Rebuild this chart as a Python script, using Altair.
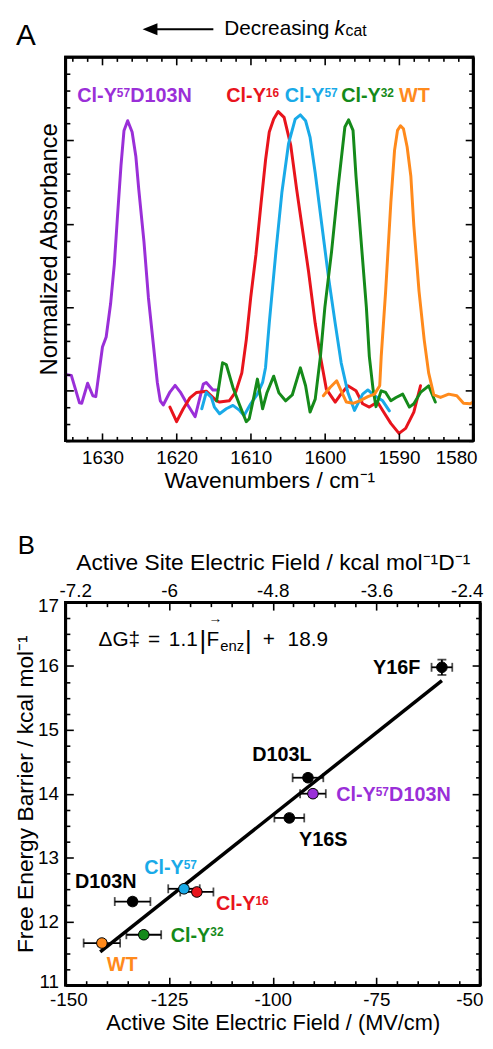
import altair as alt
import pandas as pd

FONT = "Liberation Sans"
PURPLE = "#9a2fd8"
RED = "#e8141c"
BLUE = "#19aae8"
GREEN = "#158a1a"
ORANGE = "#ff8a1c"

# ---------------- Panel A : IR spectra (wavenumber / cm-1, normalized absorbance) ----------------
purple_x = [1635.0, 1634.2, 1633.1, 1632.8, 1632.0, 1631.3, 1630.9, 1630.0, 1629.5, 1628.9, 1628.4,
            1628.0, 1627.5, 1627.1, 1626.6, 1626.0, 1625.5, 1625.1, 1624.4, 1623.8, 1623.1, 1622.6,
            1622.2, 1621.8, 1620.9, 1620.2, 1619.5, 1618.6, 1617.5, 1616.4, 1616.0, 1615.1, 1614.4]
purple_y = [0.039, 0.037, -0.029, -0.030, 0.018, -0.012, -0.014, 0.105, 0.129, 0.209, 0.303,
            0.411, 0.540, 0.623, 0.647, 0.620, 0.562, 0.482, 0.357, 0.223, 0.105, 0.020,
            -0.024, -0.034, -0.003, 0.013, -0.003, -0.031, -0.062, 0.016, 0.020, 0.002, 0.002]

red_x = [1620.9, 1620.0, 1619.1, 1618.2, 1617.3, 1616.0, 1614.6, 1614.2, 1612.9, 1612.0, 1611.2,
         1610.6, 1610.0, 1609.3, 1608.6, 1608.0, 1607.5, 1606.9, 1606.3, 1605.5, 1604.6, 1603.8,
         1603.1, 1602.2, 1601.3, 1600.6, 1599.8, 1598.6, 1598.0, 1596.9, 1595.8, 1594.9, 1594.0,
         1592.9, 1592.2, 1591.1, 1590.0, 1589.1, 1588.0, 1587.1]
red_y = [-0.039, -0.074, -0.043, -0.017, -0.004, -0.001, -0.024, -0.027, -0.024, -0.002, 0.043,
         0.122, 0.224, 0.326, 0.451, 0.553, 0.620, 0.651, 0.669, 0.655, 0.588, 0.482,
         0.396, 0.286, 0.161, 0.082, 0.004, -0.027, -0.012, 0.012, 0.000, -0.031, -0.039,
         -0.027, -0.047, -0.078, -0.102, -0.090, -0.051, 0.012]

blue_x = [1616.6, 1616.0, 1615.3, 1614.9, 1614.2, 1613.3, 1612.4, 1611.5, 1610.9, 1610.0, 1609.1,
          1608.4, 1608.0, 1607.5, 1606.6, 1605.8, 1604.9, 1604.0, 1603.3, 1602.6, 1602.0, 1601.3,
          1600.4, 1599.5, 1598.6, 1597.8, 1596.9, 1596.0, 1594.9, 1594.2, 1593.3, 1592.2, 1591.3]
blue_y = [-0.043, -0.004, -0.016, -0.039, -0.055, -0.043, -0.035, -0.047, -0.059, -0.031, -0.008,
          0.020, 0.056, 0.162, 0.334, 0.475, 0.592, 0.651, 0.661, 0.647, 0.608, 0.522,
          0.396, 0.271, 0.161, 0.067, -0.004, -0.047, -0.008, 0.002, -0.012, -0.024, -0.048]

green_x = [1614.6, 1613.8, 1613.3, 1612.4, 1611.5, 1610.6, 1610.2, 1609.5, 1609.1, 1608.4, 1607.8,
           1606.9, 1606.2, 1605.3, 1604.4, 1603.3, 1602.6, 1602.0, 1601.3, 1600.6, 1600.0, 1599.1,
           1598.2, 1597.3, 1596.8, 1596.2, 1595.8, 1595.1, 1594.4, 1594.0, 1593.5, 1593.1, 1592.4,
           1591.8, 1591.1, 1590.4, 1589.5, 1588.6, 1588.0, 1587.1, 1586.0, 1585.1]
green_y = [-0.024, 0.067, 0.063, 0.008, -0.034, -0.074, -0.067, -0.008, 0.028, -0.043, -0.004,
           0.035, -0.005, -0.024, -0.010, 0.055, 0.012, -0.051, -0.020, 0.082, 0.200, 0.333,
           0.490, 0.632, 0.649, 0.624, 0.514, 0.357, 0.200, 0.082, 0.004, -0.038, 0.000,
           -0.004, -0.024, -0.016, -0.008, -0.039, -0.031, -0.004, 0.012, -0.027]

orange_x = [1600.2, 1599.3, 1598.4, 1597.8, 1597.1, 1596.2, 1595.3, 1594.2, 1593.3, 1592.6, 1592.4,
            1591.8, 1591.1, 1590.6, 1590.2, 1589.8, 1589.4, 1588.9, 1588.4, 1588.0, 1587.3, 1586.6,
            1586.0, 1585.3, 1584.4, 1583.3, 1582.2, 1581.3, 1580.4, 1580.0]
orange_y = [-0.012, 0.008, 0.024, 0.000, -0.027, -0.030, -0.024, -0.014, -0.008, 0.012, 0.082,
            0.239, 0.451, 0.576, 0.624, 0.635, 0.628, 0.584, 0.514, 0.396, 0.239, 0.122,
            0.043, -0.010, -0.016, -0.008, -0.012, -0.030, -0.031, -0.027]

series_x = [purple_x, red_x, blue_x, green_x, orange_x]
series_y = [purple_y, red_y, blue_y, green_y, orange_y]
series_col = [PURPLE, RED, BLUE, GREEN, ORANGE]

# peak labels of panel A: main text, superscript, rest; anchor (wavenumber, absorbance at baseline)
labA_main = ["Cl-Y", "Cl-Y", "Cl-Y", "Cl-Y", "WT"]
labA_sup = ["57", "16", "57", "32", ""]
labA_rest = ["D103N", "", "", "", ""]
labA_x = [1633.4, 1613.3, 1605.4, 1597.8, 1590.0]
labA_y = [0.691, 0.691, 0.691, 0.691, 0.691]

xtickA_labels = [1630, 1620, 1610, 1600, 1590, 1580]
xtickA = list(range(1580, 1636, 2))
ytickA = [round(-0.12 + 0.04 * i, 2) for i in range(24)]

# ---------------- Panel B : free energy barrier vs electric field ----------------
b_names = ["Y16F", "D103L", "Cl-Y57D103N", "Y16S", "Cl-Y57", "Cl-Y16", "D103N", "Cl-Y32", "WT"]
b_field = [-59.2, -91.5, -90.3, -96.0, -121.4, -118.3, -133.8, -131.1, -141.2]
b_dG = [15.98, 14.25, 14.00, 13.62, 12.51, 12.46, 12.31, 11.79, 11.66]
b_xerr = [2.5, 3.7, 3.1, 3.6, 3.8, 4.0, 4.3, 4.2, 4.4]
b_yerr = [0.12, 0.05, 0.05, 0.05, 0.05, 0.05, 0.05, 0.05, 0.05]
b_col = ["black", "black", PURPLE, "black", BLUE, RED, "black", GREEN, ORANGE]

fit_x = [-141.6, -59.2]
fit_y = [11.52, 15.77]

labB_main = ["Y16F", "D103L", "Cl-Y", "Y16S", "Cl-Y", "Cl-Y", "D103N", "Cl-Y", "WT"]
labB_sup = ["", "", "57", "", "57", "16", "", "32", ""]
labB_rest = ["", "", "D103N", "", "", "", "", "", ""]
labB_align = ["right", "center", "left", "center", "left", "left", "left", "left", "left"]
labB_x = [-64.4, -97.8, -84.7, -87.8, -131.0, -113.7, -147.7, -124.6, -140.0]
labB_y = [15.874, 14.509, 13.878, 13.177, 12.740, 12.177, 12.525, 11.678, 11.228]
labB_col = ["black", "black", PURPLE, "black", BLUE, RED, "black", GREEN, ORANGE]

# equation pieces: text, x offset from the anchor (px), y offset (px), font size
eq_text = ["ΔG‡", "=", "1.1", "|", "F", "→", "enz", "|", "+", "18.9"]
eq_dx = [0, 50, 71, 102, 109, 111, 123, 148, 166, 191]
eq_dy = [0, 0, 0, 3, 0, -23, 5, 3, 0, 0]
eq_size = [21, 21, 21, 26, 21, 14, 15, 26, 21, 21]

xtickB_labels = [-150, -125, -100, -75, -50]
xtickB = list(range(-150, -49, 5))
ytickB_labels = [11, 12, 13, 14, 15, 16, 17]
ytickB = [11 + 0.25 * i for i in range(25)]

# ---------------- helpers ----------------
WA, HA = 412, 388
WB, HB = 419, 387
LABEL_SIZE = 20
SUP_SIZE = 12
CLY_W = 40.0     # width of bold "Cl-Y" at 20px
SUP_W = 13.5     # width of bold 2-digit superscript at 12px


def tick_axis(orient, offset, values, test):
    return alt.Axis(orient=orient, offset=offset, values=values, labels=False, title=None,
                    domain=True, domainColor="black", domainWidth=2.5,
                    grid=False, ticks=True, tickColor="black", tickWidth=1.6,
                    tickSize={"condition": {"test": test, "value": 8}, "value": 4.5},
                    minExtent=0, zindex=2)


def edge_labels(first, last, first_off, last_off):
    return dict(
        labelAlign={"condition": {"test": f"datum.value === {last}", "value": "right"}, "value": "center"},
        labelOffset={"condition": [{"test": f"datum.value === {first}", "value": first_off},
                                   {"test": f"datum.value === {last}", "value": last_off}], "value": 0},
    )


def frame(w, h):
    return alt.Chart(pd.DataFrame({"a": [0]})).mark_rect(
        filled=False, color="black", strokeWidth=2.5, opacity=1
    ).encode(x=alt.value(0), x2=alt.value(w), y=alt.value(0), y2=alt.value(h))


def text_layer(x, y, text, color, xs, ys, dx=0, dy=0, size=LABEL_SIZE, weight="bold", align="left"):
    return alt.Chart(pd.DataFrame({"x": [x], "y": [y]})).mark_text(
        text=text, color=color, font=FONT, fontSize=size, fontWeight=weight,
        align=align, baseline="alphabetic", dx=dx, dy=dy
    ).encode(x=alt.X("x:Q", scale=xs, axis=None), y=alt.Y("y:Q", scale=ys, axis=None))


def value_text(px, py, text, size, style="normal", weight="normal", align="left"):
    return alt.Chart(pd.DataFrame({"a": [0]})).mark_text(
        text=text, color="black", font=FONT, fontSize=size, fontStyle=style, fontWeight=weight,
        align=align, baseline="alphabetic"
    ).encode(x=alt.value(px), y=alt.value(py))


# ---------------- Panel A chart ----------------
xA = alt.Scale(domain=[1580, 1635], reverse=True, nice=False, zero=False)
yA = alt.Scale(domain=[-0.12, 0.8], nice=False, zero=False)
specA = pd.DataFrame({"wn": sum(series_x, []), "ab": sum(series_y, [])})
baseA = alt.Chart(specA).mark_point(opacity=0, size=1)
testYA = "abs(datum.value*5 - round(datum.value*5)) < 0.001"

axA1 = baseA.encode(
    x=alt.X("wn:Q", scale=xA, axis=alt.Axis(orient="bottom", values=xtickA_labels, format="d",
                                            ticks=False, domain=False, labelFontSize=19, labelPadding=8,
                                            title="Wavenumbers / cm⁻¹", titleFontSize=23, titlePadding=2,
                                            **edge_labels(1630, 1580, 0, 4))),
    y=alt.Y("ab:Q", scale=yA, axis=alt.Axis(orient="left", labels=False, ticks=False, domain=False,
                                            title="Normalized Absorbance", titleFontSize=24,
                                            titlePadding=4, minExtent=0)))
axA2 = baseA.encode(
    x=alt.X("wn:Q", scale=xA, axis=tick_axis("top", -HA, xtickA, "datum.value % 10 === 0")),
    y=alt.Y("ab:Q", scale=yA, axis=tick_axis("right", -WA, ytickA, testYA)))
axA3 = baseA.encode(
    x=alt.X("wn:Q", scale=xA, axis=tick_axis("bottom", -HA, xtickA, "datum.value % 10 === 0")),
    y=alt.Y("ab:Q", scale=yA, axis=tick_axis("left", -WA, ytickA, testYA)))

layersA = [axA1, axA2, axA3]
for xs_, ys_, c in zip(series_x, series_y, series_col):
    layersA.append(
        alt.Chart(pd.DataFrame({"wn": xs_, "ab": ys_})).mark_line(
            color=c, strokeWidth=3, strokeJoin="round", strokeCap="round"
        ).encode(x=alt.X("wn:Q", scale=xA, axis=None), y=alt.Y("ab:Q", scale=yA, axis=None))
    )
layersA.append(frame(WA, HA))
for m, s, r, x, y, c in zip(labA_main, labA_sup, labA_rest, labA_x, labA_y, series_col):
    layersA.append(text_layer(x, y, m, c, xA, yA))
    if s:
        layersA.append(text_layer(x, y, s, c, xA, yA, dx=CLY_W, dy=-5.5, size=SUP_SIZE))
    if r:
        layersA.append(text_layer(x, y, r, c, xA, yA, dx=CLY_W + SUP_W))

# panel letter and the "Decreasing k_cat" arrow
layersA.append(value_text(-40, -12, "A", 30, align="center"))
layersA.append(alt.Chart(pd.DataFrame({"a": [0]})).mark_rule(color="black", strokeWidth=2).encode(
    x=alt.value(86), x2=alt.value(149.5), y=alt.value(-28)))
layersA.append(alt.Chart(pd.DataFrame({"a": [0]})).mark_point(
    shape="M-1,0L1,-0.8L1,0.8Z", filled=True, size=225, color="black", opacity=1).encode(
    x=alt.value(85.5), y=alt.value(-28)))
layersA.append(value_text(160.5, -22, "Decreasing", 21))
layersA.append(value_text(272, -22, "k", 21, style="italic"))
layersA.append(value_text(283, -21, "cat", 16))

top = alt.layer(*layersA).properties(width=WA, height=HA).resolve_axis(x="independent", y="independent")

# ---------------- Panel B chart ----------------
xB = alt.Scale(domain=[-150, -50], nice=False, zero=False)
yB = alt.Scale(domain=[11, 17], nice=False, zero=False)
dfB = pd.DataFrame({"name": b_names, "f": b_field, "g": b_dG, "col": b_col})
dfB["xlo"] = [f - e for f, e in zip(b_field, b_xerr)]
dfB["xhi"] = [f + e for f, e in zip(b_field, b_xerr)]
dfB["ylo"] = [g - e for g, e in zip(b_dG, b_yerr)]
dfB["yhi"] = [g + e for g, e in zip(b_dG, b_yerr)]
baseB = alt.Chart(dfB).mark_point(opacity=0, size=1)

axB1 = baseB.encode(
    x=alt.X("f:Q", scale=xB, axis=alt.Axis(orient="bottom", values=xtickB_labels, labelExpr="'' + datum.value",
                                           ticks=False, domain=False, labelFontSize=19, labelPadding=6,
                                           title="Active Site Electric Field / (MV/cm)", titleFontSize=22,
                                           titlePadding=3, **edge_labels(-150, -50, 3, 3))),
    y=alt.Y("g:Q", scale=yB, axis=alt.Axis(orient="left", values=ytickB_labels, labelExpr="'' + datum.value",
                                           ticks=False, domain=False, labelFontSize=19, labelPadding=7,
                                           labelOffset={"condition": [
                                               {"test": "datum.value === 11", "value": -4},
                                               {"test": "datum.value === 17", "value": 3}], "value": 0},
                                           title="Free Energy Barrier / kcal mol⁻¹", titleFontSize=23,
                                           titlePadding=0, minExtent=0)))
axB2 = baseB.encode(
    x=alt.X("f:Q", scale=xB, axis=alt.Axis(orient="top", values=xtickB_labels,
                                           labelExpr="'' + round(datum.value*0.48)/10",
                                           ticks=False, domain=False, labelFontSize=19, labelPadding=2,
                                           title="Active Site Electric Field / kcal mol⁻¹D⁻¹",
                                           titleFontSize=23, titlePadding=7, **edge_labels(-150, -50, 10, 3))),
    y=alt.Y("g:Q", scale=yB, axis=tick_axis("right", -WB, ytickB, "datum.value % 1 === 0")))
axB3 = baseB.encode(
    x=alt.X("f:Q", scale=xB, axis=tick_axis("top", -HB, xtickB, "datum.value % 25 === 0")),
    y=alt.Y("g:Q", scale=yB, axis=tick_axis("left", -WB, ytickB, "datum.value % 1 === 0")))
axB4 = baseB.encode(
    x=alt.X("f:Q", scale=xB, axis=tick_axis("bottom", -HB, xtickB, "datum.value % 25 === 0")),
    y=alt.Y("g:Q", scale=yB, axis=None))

nx = lambda fld: alt.X(fld, scale=xB, axis=None)
ny = lambda fld: alt.Y(fld, scale=yB, axis=None)

vbar = alt.Chart(dfB).mark_rule(color="black", strokeWidth=1.8).encode(
    x=nx("f:Q"), y=ny("ylo:Q"), y2="yhi:Q")
vcap_lo = alt.Chart(dfB).mark_tick(color="black", orient="horizontal", size=9, thickness=1.8).encode(
    x=nx("f:Q"), y=ny("ylo:Q"))
vcap_hi = alt.Chart(dfB).mark_tick(color="black", orient="horizontal", size=9, thickness=1.8).encode(
    x=nx("f:Q"), y=ny("yhi:Q"))
hbar = alt.Chart(dfB).mark_rule(color="black", strokeWidth=1.8).encode(
    x=nx("xlo:Q"), x2="xhi:Q", y=ny("g:Q"))
hcap_lo = alt.Chart(dfB).mark_tick(color="black", orient="vertical", size=9, thickness=1.8).encode(
    x=nx("xlo:Q"), y=ny("g:Q"))
hcap_hi = alt.Chart(dfB).mark_tick(color="black", orient="vertical", size=9, thickness=1.8).encode(
    x=nx("xhi:Q"), y=ny("g:Q"))
fit = alt.Chart(pd.DataFrame({"f": fit_x, "g": fit_y})).mark_line(color="black", strokeWidth=3.5).encode(
    x=nx("f:Q"), y=ny("g:Q"))
pts = alt.Chart(dfB).mark_circle(size=115, opacity=1, stroke="black", strokeWidth=1).encode(
    x=nx("f:Q"), y=ny("g:Q"), fill=alt.Fill("col:N", scale=None))

layersB = [axB1, axB2, axB3, axB4, frame(WB, HB), vbar, vcap_lo, vcap_hi, hbar, hcap_lo, hcap_hi, fit, pts]
for m, s, r, al, x, y, c in zip(labB_main, labB_sup, labB_rest, labB_align, labB_x, labB_y, labB_col):
    layersB.append(text_layer(x, y, m, c, xB, yB, align=al))
    if s:
        layersB.append(text_layer(x, y, s, c, xB, yB, dx=CLY_W, dy=-5.5, size=SUP_SIZE))
    if r:
        layersB.append(text_layer(x, y, r, c, xB, yB, dx=CLY_W + SUP_W))

# equation  ΔG‡ = 1.1|F(vec)_enz| + 18.9
eq_x, eq_y = -142.0, 16.31
for t, dx, dy, sz in zip(eq_text, eq_dx, eq_dy, eq_size):
    layersB.append(text_layer(eq_x, eq_y, t, "black", xB, yB, dx=dx, dy=dy, size=sz, weight="normal"))
layersB.append(value_text(-39.5, -48.7, "B", 26, align="center"))

bottom = alt.layer(*layersB).properties(width=WB, height=HB).resolve_axis(x="independent", y="independent")

chart = alt.vconcat(top, bottom, spacing=163, bounds="flush").properties(
    padding={"left": 5, "top": 3, "right": 0, "bottom": 0}
).configure_view(stroke="black", strokeWidth=2.5).configure_axis(
    grid=False, labelFont=FONT, titleFont=FONT, labelColor="black", titleColor="black",
    titleFontWeight="normal", labelOverlap=False
).configure_text(font=FONT)

chart.save("out.html", embed_options={"renderer": "svg", "actions": False})
